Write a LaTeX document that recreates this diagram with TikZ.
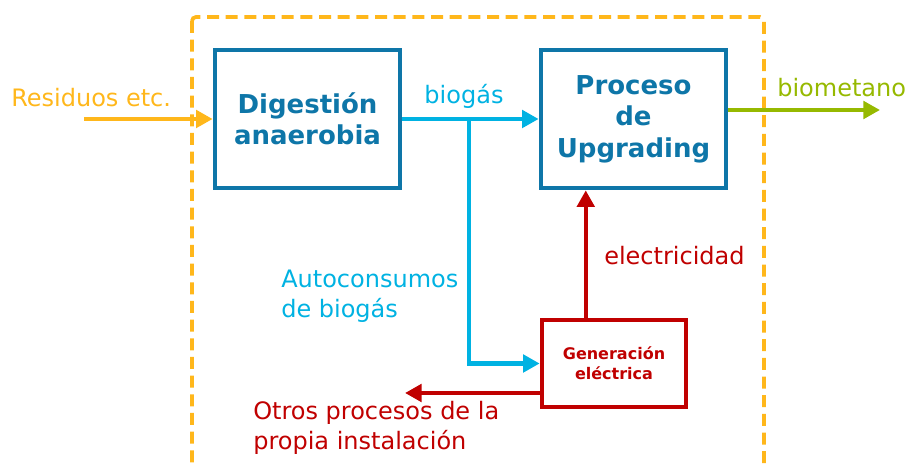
\documentclass[tikz,border=0pt]{standalone}
\usepackage{fontspec}
\setmainfont{DejaVu Sans}
\usepackage{xcolor}
\usetikzlibrary{arrows.meta,calc,positioning}

\definecolor{resorange}{RGB}{255,183,27}
\definecolor{procblue}{RGB}{14,118,168}
\definecolor{gasblue}{RGB}{0,178,226}
\definecolor{elecred}{RGB}{192,0,0}
\definecolor{metgreen}{RGB}{150,185,0}

\tikzset{
  procbox/.style={draw=procblue,line width=3.5pt,minimum width=138.75pt,minimum height=103.5pt,align=center,text=procblue,font=\bfseries\fontsize{19.5}{23.5}\selectfont},
  genbox/.style={draw=elecred,line width=3.5pt,minimum width=108pt,minimum height=65.25pt,align=center,text=elecred,font=\bfseries\fontsize{12}{15}\selectfont},
  flow/.style={line width=3.3pt,-{Triangle[length=12.5pt,width=13pt]}},
  lbl/.style={inner sep=0.75pt,font=\fontsize{18}{22.5}\selectfont},
  limitbox/.style={draw=resorange,line width=2.8pt,dash pattern=on 9pt off 5pt,rounded corners=3pt}
}

\begin{document}
\begin{tikzpicture}[x=0.75pt,y=0.75pt,yscale=-1,xscale=1]
\useasboundingbox (0,0) rectangle (907,466);

%Shape: Dashed limit of the plant
\begin{scope}
\clip (0,0) rectangle (907,466);
\draw [limitbox] (192,17) rectangle (764,490);
\end{scope}

%Shape: Rectangles
\node [procbox] (digestion) at (307.5,119) {Digestión\\anaerobia};
\node [procbox] (upgrading) at (633.5,119) {Proceso\\de\\Upgrading};
\node [genbox] (gen) at (614,363.5) {Generación\\eléctrica};

%Free ends
\coordinate (res) at (84,119);
\coordinate (branch) at (469,119);
\coordinate (otros) at (405,393);
\coordinate (bmend) at (880,110);
\coordinate (e0) at ($(gen.north west)!0.31!(gen.north east)$);

%Straight Lines
\draw [flow,draw=resorange] (res) -- (digestion.west);
\draw [flow,draw=gasblue] (digestion.east) -- (upgrading.west);
\draw [flow,draw=gasblue] (branch) |- (gen.west);
\draw [flow,draw=elecred] (e0) -- (e0 |- upgrading.south);
\draw [flow,draw=elecred] (gen.west |- otros) -- (otros);
\draw [flow,draw=metgreen] (upgrading.east |- bmend) -- (bmend);

% Text Node
\node [lbl,text=resorange,anchor=west] (resl) at (10,98) {Residuos etc.};
% Text Node
\node [lbl,text=gasblue] (biogasl) at (464,96) {biogás};
% Text Node
\node [lbl,text=metgreen,anchor=west] (biometl) at (776,88) {biometano};
% Text Node
\node [lbl,text=elecred,anchor=west] (elecl) at (603,256) {electricidad};
% Text Node
\node [lbl,text=gasblue,anchor=west,align=left] (autol) at (280,296) {Autoconsumos\\de biogás};
% Text Node
\node [lbl,text=elecred,anchor=west,align=left] (otrosl) at (252,428) {Otros procesos de la\\propia instalación};

\end{tikzpicture}
\end{document}
